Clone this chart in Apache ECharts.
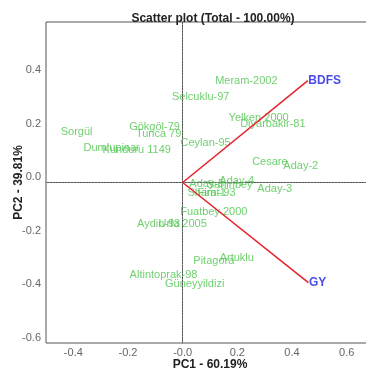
<!DOCTYPE html>
<html><head><meta charset="utf-8">
<script src="https://cdn.jsdelivr.net/npm/echarts@6/dist/echarts.min.js"></script>
<style>html,body{margin:0;padding:0;background:#fff}#c{width:366px;height:372px}</style>
</head><body><div id="c"></div>
<script>
const genotypes = ["Meram-2002","Selcuklu-97","Yelken 2000","Diyarbakir-81","Sorgül","Gökgöl-79","Tunca 79","Ceylan-95","Dumlupinar","Kunduru 1149","Cesare","Aday-2","Aday-5","Sahinbey","Aday-4","Aday-3","Sham-1","Firat-93","Fuatbey 2000","Aydin-93","Urfa 2005","Pitagora","Artuklu","Altintoprak-98","Güneyyildizi"];
const pc1 = [0.233,0.066,0.278,0.330,-0.388,-0.103,-0.088,0.084,-0.260,-0.168,0.319,0.432,0.088,0.172,0.198,0.337,0.088,0.124,0.114,-0.088,0.000,0.114,0.198,-0.070,0.044];
const pc2 = [0.379,0.320,0.241,0.219,0.189,0.207,0.181,0.148,0.129,0.121,0.077,0.062,-0.006,-0.009,0.006,-0.024,-0.039,-0.039,-0.110,-0.155,-0.155,-0.293,-0.282,-0.346,-0.379];
const traits = ["BDFS","GY"];
const traitPC1 = [0.458,0.460];
const traitPC2 = [0.381,-0.374];
const xTicks = [-0.4,-0.2,0.0,0.2,0.4,0.6];
const yTicks = [-0.6,-0.4,-0.2,0.0,0.2,0.4];

const font = '"Liberation Sans", Arial, sans-serif';
const green = '#4cc44c';
const series = [];
series.push({
  type:'scatter', symbolSize:1, itemStyle:{color:'rgba(0,0,0,0)'}, silent:true, z:3,
  data: genotypes.map((g,i)=>({value:[pc1[i],pc2[i]],name:g})),
  label:{show:true,position:'inside',formatter:p=>p.name,color:green,fontSize:11,fontFamily:font},
  markLine:{silent:true,symbol:'none',label:{show:false},
    lineStyle:{color:'#888',type:[1,2],width:1},
    data:[{xAxis:0},{yAxis:0}]}
});
traits.forEach((t,i)=>{
  series.push({type:'line',silent:true,symbol:'none',z:4,
    lineStyle:{color:'#e8202a',width:1.5},
    data:[[0,0],[traitPC1[i],traitPC2[i]]]});
});
series.push({type:'scatter',symbolSize:1,itemStyle:{color:'rgba(0,0,0,0)'},silent:true,z:5,
  data: traits.map((t,i)=>({value:[traitPC1[i],traitPC2[i]],name:t})),
  label:{show:true,position:'right',distance:0,formatter:p=>p.name,color:'#1a1ae6',fontSize:12,fontWeight:'bold',fontFamily:font}
});

const chart = echarts.init(document.getElementById('c'),null,{renderer:'canvas'});
chart.setOption({
  animation:false,
  title:{text:'Scatter plot (Total - 100.00%)',left:208,textAlign:'center',top:8,
    textStyle:{fontSize:12,fontWeight:'bold',color:'#222',fontFamily:font}},
  grid:{left:46,top:22,right:-8,bottom:29,show:true,borderColor:'#555',borderWidth:1,
    containLabel:false,outerBoundsMode:'none'},
  xAxis:{type:'value',min:-0.5,max:0.7,
    name:'PC1 - 60.19%',nameLocation:'middle',nameGap:16,nameMoveOverlap:false,
    nameTextStyle:{fontSize:12,fontWeight:'bold',color:'#222',fontFamily:font},
    axisLine:{lineStyle:{color:'#555'}},axisTick:{show:false},splitLine:{show:false},
    axisLabel:{customValues:xTicks,color:'#666',fontSize:11,fontFamily:font,margin:4,
      formatter:v=>Math.abs(v)<1e-9?'-0.0':v.toFixed(1)}},
  yAxis:{type:'value',min:-0.6,max:0.6,interval:0.2,
    name:'PC2 - 39.81%',nameLocation:'middle',nameGap:21,nameMoveOverlap:false,
    nameTextStyle:{fontSize:12,fontWeight:'bold',color:'#222',fontFamily:font},
    axisLine:{show:true,lineStyle:{color:'#555'}},axisTick:{show:false},splitLine:{show:false},
    axisLabel:{customValues:yTicks,color:'#666',fontSize:11,fontFamily:font,margin:5,verticalAlign:'bottom',
      formatter:v=>v.toFixed(1)}},
  series:series
});
</script></body></html>
